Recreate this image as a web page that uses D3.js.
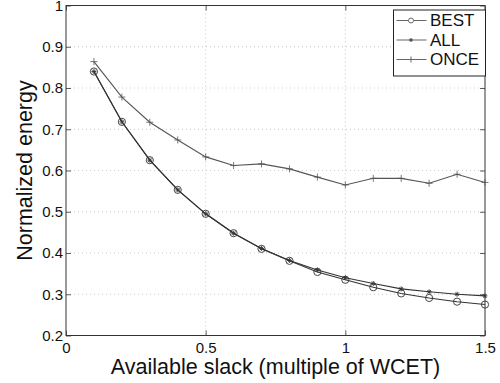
<!DOCTYPE html>
<html lang="en">
<head>
<meta charset="utf-8">
<title>Normalized energy</title>
<script src="https://d3js.org/d3.v7.min.js"></script>
<style>
  body { margin: 0; background: #fff; }
  text { font-family: "Liberation Sans", Arial, sans-serif; fill: #111; }
</style>
</head>
<body>
<script>
var slack = [0.1, 0.2, 0.3, 0.4, 0.5, 0.6, 0.7, 0.8, 0.9, 1.0, 1.1, 1.2, 1.3, 1.4, 1.5];
var best = [0.840, 0.718, 0.625, 0.553, 0.495, 0.448, 0.410, 0.381, 0.354, 0.335, 0.317, 0.302, 0.291, 0.282, 0.275];
var all  = [0.840, 0.718, 0.625, 0.553, 0.495, 0.448, 0.411, 0.382, 0.359, 0.340, 0.326, 0.313, 0.306, 0.300, 0.296];
var once = [0.864, 0.778, 0.717, 0.674, 0.633, 0.612, 0.616, 0.604, 0.584, 0.565, 0.581, 0.581, 0.569, 0.591, 0.571];
var xTicks = [0, 0.5, 1, 1.5];
var yTicks = [0.2, 0.3, 0.4, 0.5, 0.6, 0.7, 0.8, 0.9, 1];

var w = 500, h = 383;
var margin = {top: 5.5, right: 15, bottom: 47.5, left: 66};
var iw = w - margin.left - margin.right;
var ih = h - margin.top - margin.bottom;

var svg = d3.select("body").append("svg")
    .attr("width", w)
    .attr("height", h);

var g = svg.append("g")
    .attr("transform", "translate(" + margin.left + "," + margin.top + ")");

var x = d3.scaleLinear().domain([0, 1.5]).range([0, iw]);
var y = d3.scaleLinear().domain([0.2, 1]).range([ih, 0]);

// dotted grid
g.append("g").selectAll("line").data(xTicks.slice(1, -1)).enter().append("line")
    .attr("x1", function(d) { return x(d); }).attr("x2", function(d) { return x(d); })
    .attr("y1", 0).attr("y2", ih)
    .style("stroke", "#bbb").style("stroke-width", 0.8).style("stroke-dasharray", "1,3");
g.append("g").selectAll("line").data(yTicks.slice(1, -1)).enter().append("line")
    .attr("y1", function(d) { return y(d); }).attr("y2", function(d) { return y(d); })
    .attr("x1", 0).attr("x2", iw)
    .style("stroke", "#bbb").style("stroke-width", 0.8).style("stroke-dasharray", "1,3");

// axes (ticks inside, on all four sides)
var fmt = function(d) { return d3.format("")(d); };
var xAxis = d3.axisBottom(x).tickValues(xTicks).tickSize(-5).tickPadding(7).tickFormat(fmt);
var yAxis = d3.axisLeft(y).tickValues(yTicks).tickSize(-5).tickPadding(3).tickFormat(fmt);

function styleAxis(sel, showText) {
  sel.select(".domain").remove();
  sel.selectAll("line").style("stroke", "#333").style("stroke-width", 0.8);
  sel.selectAll("text").style("font-size", "15px").style("fill", "#111")
      .style("font-family", "'Liberation Sans', Arial, sans-serif");
  if (!showText) sel.selectAll("text").remove();
}

g.append("g").attr("transform", "translate(0," + ih + ")").call(xAxis).call(styleAxis, true);
g.append("g").call(yAxis).call(styleAxis, true);
g.append("g").call(d3.axisTop(x).tickValues(xTicks).tickSize(-5)).call(styleAxis, false);
g.append("g").attr("transform", "translate(" + iw + ",0)")
    .call(d3.axisRight(y).tickValues(yTicks).tickSize(-5)).call(styleAxis, false);

g.append("rect")
    .attr("width", iw).attr("height", ih)
    .style("fill", "none").style("stroke", "#333").style("stroke-width", 1);

// series
var series = [
  {name: "BEST", values: best, color: "#333", marker: "circle"},
  {name: "ALL", values: all, color: "#333", marker: "star"},
  {name: "ONCE", values: once, color: "#555", marker: "plus"}
];

var line = d3.line()
    .x(function(d, i) { return x(slack[i]); })
    .y(function(d) { return y(d); });

function drawMarker(sel, type, color) {
  if (type === "circle") {
    sel.append("circle").attr("r", 3.6)
        .style("fill", "none").style("stroke", color).style("stroke-width", 0.9);
  } else if (type === "star") {
    sel.append("path").attr("d", "M-2.5,0H2.5M0,-2.5V2.5M-1.8,-1.8L1.8,1.8M-1.8,1.8L1.8,-1.8")
        .style("stroke", color).style("stroke-width", 0.9);
  } else {
    sel.append("path").attr("d", "M-3.5,0H3.5M0,-3.5V3.5")
        .style("stroke", color).style("stroke-width", 0.8);
  }
}

series.forEach(function(s) {
  g.append("path").datum(s.values)
      .attr("d", line)
      .style("fill", "none").style("stroke", s.color).style("stroke-width", 1.1);
  g.selectAll(".m-" + s.name).data(s.values).enter().append("g")
      .attr("class", "m-" + s.name)
      .attr("transform", function(d, i) { return "translate(" + x(slack[i]) + "," + y(d) + ")"; })
      .each(function() { drawMarker(d3.select(this), s.marker, s.color); });
});

// legend
var lg = svg.append("g").attr("transform", "translate(393.5,10)");
lg.append("rect").attr("width", 92).attr("height", 66)
    .style("fill", "#fff").style("stroke", "#222").style("stroke-width", 1);
series.forEach(function(s, i) {
  var ly = 10.5 + i * 19.5;
  lg.append("line").attr("x1", 3).attr("x2", 33).attr("y1", ly).attr("y2", ly)
      .style("stroke", "#666").style("stroke-width", 1);
  var mk = lg.append("g").attr("transform", "translate(17.5," + ly + ")");
  if (s.marker === "circle") {
    mk.append("circle").attr("r", 2.5).style("fill", "#fff").style("stroke", "#666");
  } else if (s.marker === "star") {
    mk.append("circle").attr("r", 1.8).style("fill", "#555");
  } else {
    mk.append("path").attr("d", "M0,-3V3").style("stroke", "#666");
  }
  lg.append("text").attr("x", 36.5).attr("y", ly + 5.5)
      .style("font-size", "17px").text(s.name);
});

// axis labels
svg.append("text")
    .attr("x", margin.left + iw / 2).attr("y", 373.5)
    .attr("text-anchor", "middle")
    .style("font-size", "21.5px")
    .text("Available slack (multiple of WCET)");

svg.append("text")
    .attr("transform", "translate(32," + (margin.top + ih / 2) + ") rotate(-90)")
    .attr("text-anchor", "middle")
    .style("font-size", "21.5px")
    .text("Normalized energy");
</script>
</body>
</html>
